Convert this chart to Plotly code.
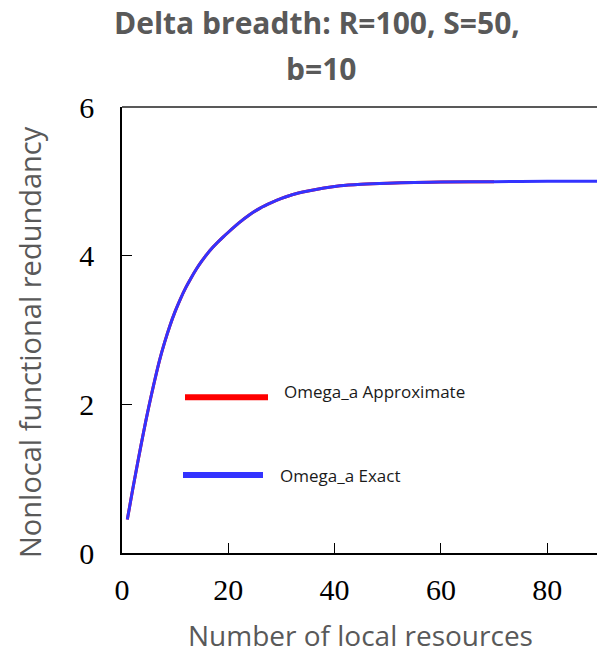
import plotly.graph_objects as go

# Number of local resources (x) and nonlocal functional redundancy (y)
n_local = [1, 2, 3, 4, 5, 6, 7, 8, 9, 10, 11, 12, 13, 14, 15, 16, 17, 18, 19, 20,
           22, 24, 26, 28, 30, 32, 35, 38, 41, 45, 50, 55, 60, 70, 80, 90]
omega_exact = [0.45, 0.85, 1.235, 1.605, 1.955, 2.275, 2.575, 2.83, 3.055, 3.25,
               3.42, 3.57, 3.70, 3.82, 3.925, 4.02, 4.105, 4.18, 4.25, 4.315,
               4.44, 4.55, 4.64, 4.71, 4.77, 4.82, 4.87, 4.91, 4.94, 4.96,
               4.975, 4.985, 4.99, 4.995, 5.0, 5.0]

n_local_approx = [1, 2, 3, 4, 5, 6, 7, 8, 9, 10, 11, 12, 13, 14, 15, 16, 17, 18, 19, 20,
                  22, 24, 26, 28, 30, 32, 35, 38, 41, 45, 50, 55, 60, 70]
omega_approx = [0.45, 0.85, 1.235, 1.605, 1.955, 2.275, 2.575, 2.83, 3.055, 3.25,
                3.42, 3.57, 3.70, 3.82, 3.925, 4.02, 4.105, 4.18, 4.25, 4.315,
                4.44, 4.55, 4.64, 4.71, 4.77, 4.82, 4.87, 4.91, 4.94, 4.96,
                4.975, 4.985, 4.99, 4.995]

series_names = ["Omega_a Approximate", "Omega_a Exact"]
series_colors = ["#ff0000", "#3333ff"]

x_ticks = [0, 20, 40, 60, 80]
y_ticks = [0, 2, 4, 6]

TEXT_GRAY = "#595959"
SANS = "Open Sans"
SERIF = "Liberation Serif"

# Plot-area geometry in pixels, used to place paper-referenced text
PX_LEFT, PX_RIGHT, PX_TOP, PX_BOTTOM = 122, 597, 107, 553


def paper_x(px):
    return (px - PX_LEFT) / (PX_RIGHT - PX_LEFT)


def paper_y(py):
    return (PX_BOTTOM - py) / (PX_BOTTOM - PX_TOP)


fig = go.Figure()
fig.add_trace(go.Scatter(x=n_local_approx, y=omega_approx, mode="lines",
                         line=dict(color=series_colors[0], width=3, shape="spline", smoothing=0.8),
                         name=series_names[0], showlegend=False))
fig.add_trace(go.Scatter(x=n_local, y=omega_exact, mode="lines",
                         line=dict(color=series_colors[1], width=3, shape="spline", smoothing=0.8),
                         name=series_names[1], showlegend=False))

# Hand-drawn style legend inside the plotting area
legend_rows = [
    dict(x0=185, x1=268, y=397.3, tx=282, ty=391.7),
    dict(x0=183, x1=263, y=475, tx=278, ty=475),
]
shapes = []
annotations = []
for row, name, color in zip(legend_rows, series_names, series_colors):
    shapes.append(dict(type="line", xref="paper", yref="paper",
                       x0=paper_x(row["x0"]), x1=paper_x(row["x1"]),
                       y0=paper_y(row["y"]), y1=paper_y(row["y"]),
                       line=dict(color=color, width=6)))
    annotations.append(dict(xref="paper", yref="paper", x=paper_x(row["tx"]), y=paper_y(row["ty"]),
                            xanchor="left", yanchor="middle", showarrow=False,
                            text=name, font=dict(family=SANS, size=17, color="#1a1a1a")))

# Gray top border of the plotting area
shapes.append(dict(type="line", xref="paper", yref="paper", x0=0, x1=1, y0=1, y1=1,
                   line=dict(color=TEXT_GRAY, width=2)))

# Two-line bold title
annotations.append(dict(xref="paper", yref="paper", x=paper_x(317), y=paper_y(23),
                        xanchor="center", yanchor="middle", showarrow=False,
                        text="<b>Delta breadth: R=100, S=50,</b>",
                        font=dict(family=SANS, size=30, color=TEXT_GRAY)))
annotations.append(dict(xref="paper", yref="paper", x=paper_x(321), y=paper_y(68),
                        xanchor="center", yanchor="middle", showarrow=False,
                        text="<b>b=10</b>",
                        font=dict(family=SANS, size=30, color=TEXT_GRAY)))

# Axis titles
annotations.append(dict(xref="paper", yref="paper", x=paper_x(360), y=paper_y(635),
                        xanchor="center", yanchor="middle", showarrow=False,
                        text="Number of local resources",
                        font=dict(family=SANS, size=28, color=TEXT_GRAY)))
annotations.append(dict(xref="paper", yref="paper", x=paper_x(29), y=paper_y(342),
                        xanchor="center", yanchor="middle", showarrow=False, textangle=-90,
                        text="Nonlocal functional redundancy",
                        font=dict(family=SANS, size=29, color=TEXT_GRAY)))

fig.update_layout(
    width=597, height=654,
    margin=dict(l=PX_LEFT, r=597 - PX_RIGHT, t=PX_TOP, b=654 - PX_BOTTOM),
    paper_bgcolor="white", plot_bgcolor="white",
    shapes=shapes, annotations=annotations,
    showlegend=False,
)
fig.update_xaxes(
    range=[0, 89.36], tickvals=x_ticks, ticktext=[str(v) for v in x_ticks],
    ticks="inside", ticklen=10, tickwidth=1.3, tickcolor="black",
    showline=True, linecolor="black", linewidth=1.5, showgrid=False, zeroline=False,
    tickfont=dict(family=SERIF, size=30, color="black"), ticklabelstandoff=9,
)
fig.update_yaxes(
    range=[0, 6], tickvals=y_ticks, ticktext=[str(v) for v in y_ticks],
    ticks="inside", ticklen=10, tickwidth=1.3, tickcolor="black",
    showline=True, linecolor="black", linewidth=1.5, showgrid=False, zeroline=False,
    tickfont=dict(family=SERIF, size=30, color="black"), ticklabelstandoff=20,
)

fig.write_html("out.html")
